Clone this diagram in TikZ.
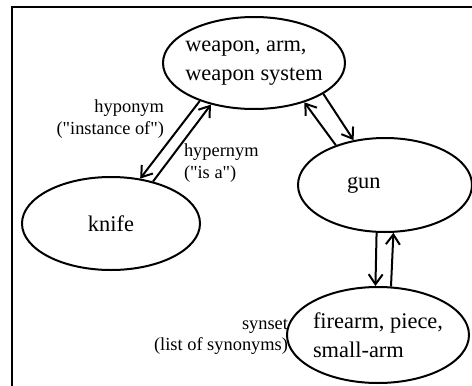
\documentclass[tikz,border=0pt]{standalone}
\usepackage{fontspec}
\setmainfont{Liberation Serif}
\usetikzlibrary{arrows.meta,shapes.geometric}

\newcommand{\synfont}{\fontsize{11.2pt}{14.5pt}\selectfont}
\newcommand{\relfont}{\fontsize{9.2pt}{10.8pt}\selectfont}

\tikzset{
  syn/.style={ellipse,draw,line width=1pt,inner xsep=-8pt,inner ysep=0pt,align=left,font=\synfont},
  rel/.style={inner sep=0pt,font=\relfont},
}

\begin{document}
\begin{tikzpicture}[x=0.5pt,y=-0.5pt,>={Straight Barb[length=5pt,width=7pt]},line width=1pt]
  \useasboundingbox (0,0) rectangle (472,386);
  \draw (12,386) -- (12,7) -- (472,7);  % frame

  \node[syn,minimum width=91pt,minimum height=46pt]                 (W) at (254,63)    {weapon, arm,\\weapon system};
  \node[syn,minimum width=89pt,minimum height=46.5pt]               (K) at (111,223.5) {knife};
  \node[syn,minimum width=87pt,minimum height=47pt,text width=38pt] (G) at (385,185)   {gun};
  \node[syn,minimum width=91pt,minimum height=48pt]                 (F) at (378,335)   {firearm, piece,\\small-arm};

  \node[rel,anchor=east,align=right] (hypo)  at (165,119) {hyponym\\(\textquotedbl instance of\textquotedbl)};
  \node[rel,anchor=west,align=left]  (hyper) at (183,163) {hypernym\\(\textquotedbl is a\textquotedbl)};
  \node[rel,anchor=east,align=right] (syns)  at (289,337) {synset\\(list of synonyms)};

  \path[->] (W.215) edge (K.57)
            (K.45)  edge (W.224)
            (W.336) edge (G.125)
            (G.141) edge (W.322)
            (G.260) edge (F.93)
            (F.75)  edge (G.280);
\end{tikzpicture}
\end{document}
